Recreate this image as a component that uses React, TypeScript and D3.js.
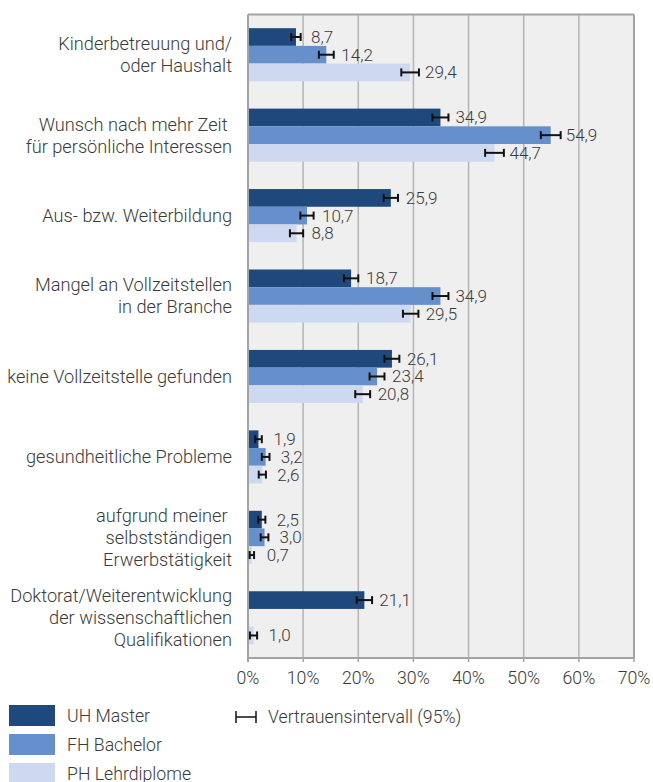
import React from "react";
import * as d3 from "d3";

const categories: string[][] = [
  ["Kinderbetreuung und/", "oder Haushalt"],
  ["Wunsch nach mehr Zeit ", "für persönliche Interessen"],
  ["Aus- bzw. Weiterbildung"],
  ["Mangel an Vollzeitstellen", "in der Branche"],
  ["keine Vollzeitstelle gefunden"],
  ["gesundheitliche Probleme"],
  ["aufgrund meiner ", "selbstständigen", "Erwerbstätigkeit"],
  ["Doktorat/Weiterentwicklung", "der wissenschaftlichen", "Qualifikationen"],
];

const seriesNames = ["UH Master", "FH Bachelor", "PH Lehrdiplome"];
const seriesColors = ["#1f497d", "#6690cb", "#cdd9f0"];

const uhMaster: (number | null)[] = [8.7, 34.9, 25.9, 18.7, 26.1, 1.9, 2.5, 21.1];
const fhBachelor: (number | null)[] = [14.2, 54.9, 10.7, 34.9, 23.4, 3.2, 3.0, null];
const phLehr: (number | null)[] = [29.4, 44.7, 8.8, 29.5, 20.8, 2.6, 0.7, 1.0];

const uhCi: (number | null)[] = [0.85, 1.45, 1.3, 1.3, 1.35, 0.6, 0.65, 1.4];
const fhCi: (number | null)[] = [1.35, 1.8, 1.2, 1.45, 1.35, 0.7, 0.7, null];
const phCi: (number | null)[] = [1.6, 1.7, 1.2, 1.4, 1.35, 0.65, 0.4, 0.65];

const xTicks = [0, 10, 20, 30, 40, 50, 60, 70];

const W = 653;
const H = 782;
const FONT = "Roboto, 'Noto Sans', sans-serif";
const TXT = "#3a3a3a";

export default function App() {
  const values = [uhMaster, fhBachelor, phLehr];
  const cis = [uhCi, fhCi, phCi];
  const left = 248;
  const right = 634;
  const top = 14.5;
  const bottom = 658;

  const x = d3.scaleLinear().domain([0, 70]).range([left, right]);
  const y = d3
    .scaleBand<number>()
    .domain(d3.range(categories.length))
    .range([top, bottom])
    .paddingInner(0.34)
    .paddingOuter(0.17);
  const yi = d3
    .scaleBand<number>()
    .domain([0, 1, 2])
    .range([0, y.bandwidth()]);

  const fmt = (v: number) => v.toFixed(1).replace(".", ",");
  const lineH = 22;
  const FS = 17.7;

  return (
    <svg width={W} height={H} style={{ position: "absolute", left: 0, top: 0 }} fontFamily={FONT}>
      <rect x={left} y={top} width={right - left} height={bottom - top} fill="#efefef" />
      {xTicks.slice(1, -1).map((t) => (
        <line key={t} x1={x(t)} x2={x(t)} y1={top} y2={bottom} stroke="#b4b4b4" strokeWidth={1.5} />
      ))}
      {values.map((vals, si) =>
        vals.map((v, ci) =>
          v == null ? null : (
            <rect
              key={`b${si}-${ci}`}
              x={x(0)}
              y={(y(ci) as number) + (yi(si) as number)}
              width={x(v) - x(0)}
              height={yi.bandwidth()}
              fill={seriesColors[si]}
            />
          )
        )
      )}
      {/* frame */}
      <line x1={left} x2={right} y1={top} y2={top} stroke="#a3a3a3" strokeWidth={2} />
      <line x1={right} x2={right} y1={top} y2={bottom} stroke="#a3a3a3" strokeWidth={2} />
      <line x1={left} x2={right} y1={bottom} y2={bottom} stroke="#a3a3a3" strokeWidth={2} />
      <line x1={left} x2={left} y1={top} y2={bottom + 4} stroke="#a3a3a3" strokeWidth={2} />
      {xTicks.map((t) => (
        <g key={`t${t}`}>
          <line x1={x(t)} x2={x(t)} y1={bottom} y2={bottom + 4} stroke="#a3a3a3" strokeWidth={1.5} />
          <text x={x(t)} y={bottom + 26} textAnchor="middle" fontSize={FS} fontWeight={300} fill={TXT}>
            {t}%
          </text>
        </g>
      ))}
      {/* error bars & labels */}
      {values.map((vals, si) =>
        vals.map((v, ci) => {
          if (v == null) return null;
          const e = cis[si][ci] as number;
          const cy = (y(ci) as number) + (yi(si) as number) + yi.bandwidth() / 2;
          return (
            <g key={`e${si}-${ci}`}>
              <line x1={x(v - e)} x2={x(v + e)} y1={cy} y2={cy} stroke="#111" strokeWidth={2} />
              <line x1={x(v - e)} x2={x(v - e)} y1={cy - 4} y2={cy + 4} stroke="#111" strokeWidth={2} />
              <line x1={x(v + e)} x2={x(v + e)} y1={cy - 4} y2={cy + 4} stroke="#111" strokeWidth={2} />
              <text x={x(v) + 15} y={cy} dy="0.35em" fontSize={17} fontWeight={300} fill={TXT}>
                {fmt(v)}
              </text>
            </g>
          );
        })
      )}
      {/* category labels */}
      {categories.map((lines, ci) => {
        const cy = (y(ci) as number) + y.bandwidth() / 2;
        const start = cy - ((lines.length - 1) * lineH) / 2;
        return (
          <text key={`c${ci}`} textAnchor="end" fontSize={18.2} fontWeight={300} fill={TXT} style={{ whiteSpace: "pre" }}>
            {lines.map((l, li) => (
              <tspan key={li} x={232} y={start + li * lineH} dy="0.35em">
                {l}
              </tspan>
            ))}
          </text>
        );
      })}
      {/* legend */}
      {seriesNames.map((n, i) => (
        <g key={`l${i}`}>
          <rect x={9} y={705 + i * 29} width={46} height={21} fill={seriesColors[i]} />
          <text x={67} y={705 + i * 29 + 10.5} dy="0.35em" fontSize={FS} fontWeight={300} fill={TXT}>
            {n}
          </text>
        </g>
      ))}
      <g>
        <line x1={236} x2={256} y1={717} y2={717} stroke="#111" strokeWidth={1.5} />
        <line x1={236} x2={236} y1={711} y2={723} stroke="#111" strokeWidth={1.5} />
        <line x1={256} x2={256} y1={711} y2={723} stroke="#111" strokeWidth={1.5} />
        <text x={268} y={717} dy="0.35em" fontSize={FS} fontWeight={300} fill={TXT}>
          Vertrauensintervall (95%)
        </text>
      </g>
    </svg>
  );
}
